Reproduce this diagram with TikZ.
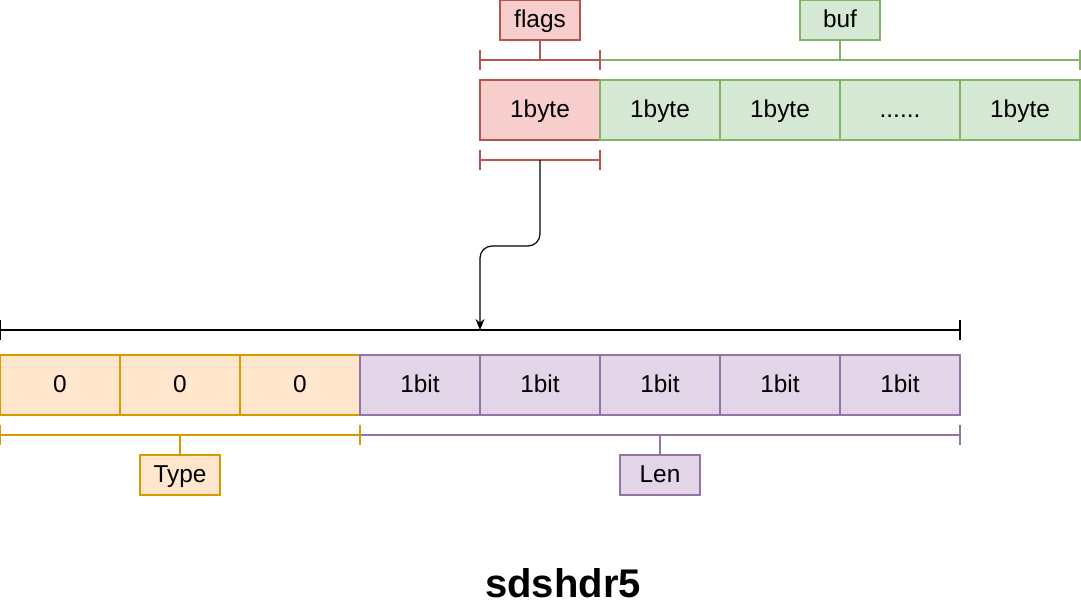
\documentclass[tikz,border=0pt]{standalone}
\usepackage{fontspec}
\setmainfont{Liberation Sans}
\usetikzlibrary{arrows.meta}
\definecolor{redf}{HTML}{F8CECC}
\definecolor{redd}{HTML}{B85450}
\definecolor{greenf}{HTML}{D5E8D4}
\definecolor{greend}{HTML}{82B366}
\definecolor{orangef}{HTML}{FFE6CC}
\definecolor{oranged}{HTML}{D79B00}
\definecolor{purplef}{HTML}{E1D5E7}
\definecolor{purpled}{HTML}{9673A6}

\begin{document}
\begin{tikzpicture}[x=0.5pt,y=-0.5pt,line width=0.6pt,
  cell/.style={draw,minimum width=60pt,minimum height=30pt,inner sep=0pt,text height=0.716em,text depth=0pt,font=\fontsize{12.2}{14}\selectfont},
  tag/.style={cell,minimum width=40pt,minimum height=20pt},
  flagcell/.style={cell,draw=redd,fill=redf},
  bufcell/.style={cell,draw=greend,fill=greenf},
  typecell/.style={cell,draw=oranged,fill=orangef},
  lencell/.style={cell,draw=purpled,fill=purplef}]
\useasboundingbox (0,0) rectangle (1081,611);
\node[flagcell] (f) at (540,110) {1byte};
\node[bufcell] (b1) at (660,110) {1byte};
\node[bufcell] (b2) at (780,110) {1byte};
\node[bufcell] (b3) at (900,110) {......};
\node[bufcell] (b4) at (1020,110) {1byte};
\node[tag,draw=redd,fill=redf] (flags) at (540,20) {flags};
\node[tag,draw=greend,fill=greenf] (buf) at (840,20) {buf};
\coordinate (fl) at (480,60);
\coordinate (fr) at (600,60);
\coordinate (br) at (1080,60);
\draw[greend] (fr) -- (br) (1080,50) -- (1080,70);
\draw[redd] (fl) -- (fr) (480,50) -- (480,70) (600,50) -- (600,70);
\draw[redd] (flags.south) -- (flags.south |- fl);
\draw[greend] (buf.south) -- (buf.south |- br);
\coordinate (fb) at (540,160);
\draw[redd] (480,160) -- (600,160) (480,150) -- (480,170) (600,150) -- (600,170);
\node[typecell] (t1) at (60,385) {0};
\node[typecell] (t2) at (180,385) {0};
\node[typecell] (t3) at (300,385) {0};
\node[lencell] (l1) at (420,385) {1bit};
\node[lencell] (l2) at (540,385) {1bit};
\node[lencell] (l3) at (660,385) {1bit};
\node[lencell] (l4) at (780,385) {1bit};
\node[lencell] (l5) at (900,385) {1bit};
\coordinate (top) at (480,330);
\draw (0,330) -- (960,330) (0,320) -- (0,340) (960,320) -- (960,340);
\draw[-{Stealth[length=5.5pt,width=4.5pt]},rounded corners=6pt] (fb) -- ++(0,86) -| (top);
\coordinate (tl) at (0,435);
\coordinate (tr) at (360,435);
\coordinate (lr) at (960,435);
\draw[purpled] (tr) -- (lr) (960,425) -- (960,445);
\draw[oranged] (tl) -- (tr) (0,425) -- (0,445) (360,425) -- (360,445);
\node[tag,draw=oranged,fill=orangef] (type) at (180,475) {Type};
\node[tag,draw=purpled,fill=purplef] (len) at (660,475) {Len};
\draw[oranged] (type.north) -- (type.north |- tl);
\draw[purpled] (len.north) -- (len.north |- lr);
\node[anchor=base,font=\bfseries\fontsize{20}{24}\selectfont] (title) at (563,597) {sdshdr5};
\end{tikzpicture}
\end{document}
